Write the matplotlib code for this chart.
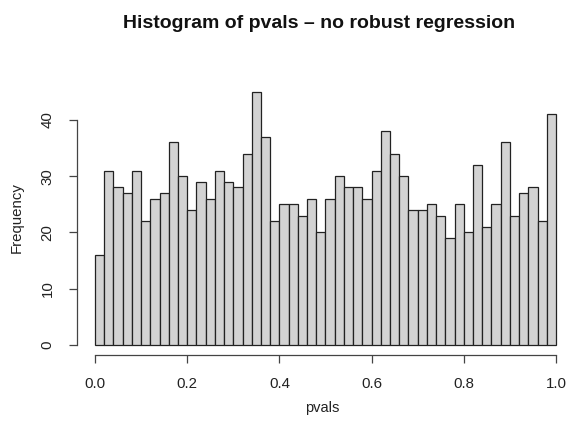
import numpy as np
import matplotlib
matplotlib.use("Agg")
import matplotlib.pyplot as plt

plt.rcParams['font.family'] = ['Liberation Sans', 'DejaVu Sans']

# histogram of p-values: 50 bins of width 0.02 on [0, 1]
bin_edges = np.linspace(0.0, 1.0, 51)
counts = [16, 31, 28, 27, 31, 22, 26, 27, 36, 30,
          24, 29, 26, 31, 29, 28, 34, 45, 37, 22,
          25, 25, 23, 26, 20, 26, 30, 28, 28, 26,
          31, 38, 34, 30, 24, 24, 25, 23, 19, 25,
          20, 32, 21, 25, 36, 23, 27, 28, 22, 41]
x_ticks = [0.0, 0.2, 0.4, 0.6, 0.8, 1.0]
y_ticks = [0, 10, 20, 30, 40]

W, H = 569, 423
fig = plt.figure(figsize=(W / 100, H / 100), dpi=100)
left, right = 76.6, 574.4
top, bottom = 81.75, 355.1
ax = fig.add_axes([left / W, 1 - bottom / H, (right - left) / W, (bottom - top) / H])

ax.bar(bin_edges[:-1], counts, width=np.diff(bin_edges), align='edge',
       color='#d3d3d3', edgecolor='#222222', linewidth=0.9)

ax.set_xlim(-0.04, 1.04)
ax.set_ylim(-0.04 * max(counts), 1.04 * max(counts))

for s in ('top', 'right'):
    ax.spines[s].set_visible(False)
ax.spines['left'].set_bounds(0, 40)
ax.spines['bottom'].set_bounds(0, 1)
for s in ('left', 'bottom'):
    ax.spines[s].set_color('#444444')
    ax.spines[s].set_linewidth(0.9)

ax.set_xticks(x_ticks)
ax.set_xticklabels([f"{v:.1f}" for v in x_ticks])
ax.set_yticks(y_ticks)
ax.set_yticklabels([str(v) for v in y_ticks], rotation=90, va='center')
ax.tick_params(axis='both', direction='out', length=6, width=0.9,
               color='#444444', labelsize=10.8, labelcolor='#222222')
ax.tick_params(axis='x', pad=10)
ax.tick_params(axis='y', pad=10)

fig.text(319 / W, 1 - 24 / H, "Histogram of pvals \u2013 no robust regression",
         ha='center', va='center', fontsize=14, fontweight='bold', color='#111111')
fig.text(322 / W, 1 - 408 / H, "pvals", ha='center', va='center',
         fontsize=10.5, color='#222222')
fig.text(17 / W, 1 - 218 / H, "Frequency", ha='center', va='center',
         rotation=90, fontsize=10.8, color='#222222')

fig.savefig("out.png", dpi=100)
